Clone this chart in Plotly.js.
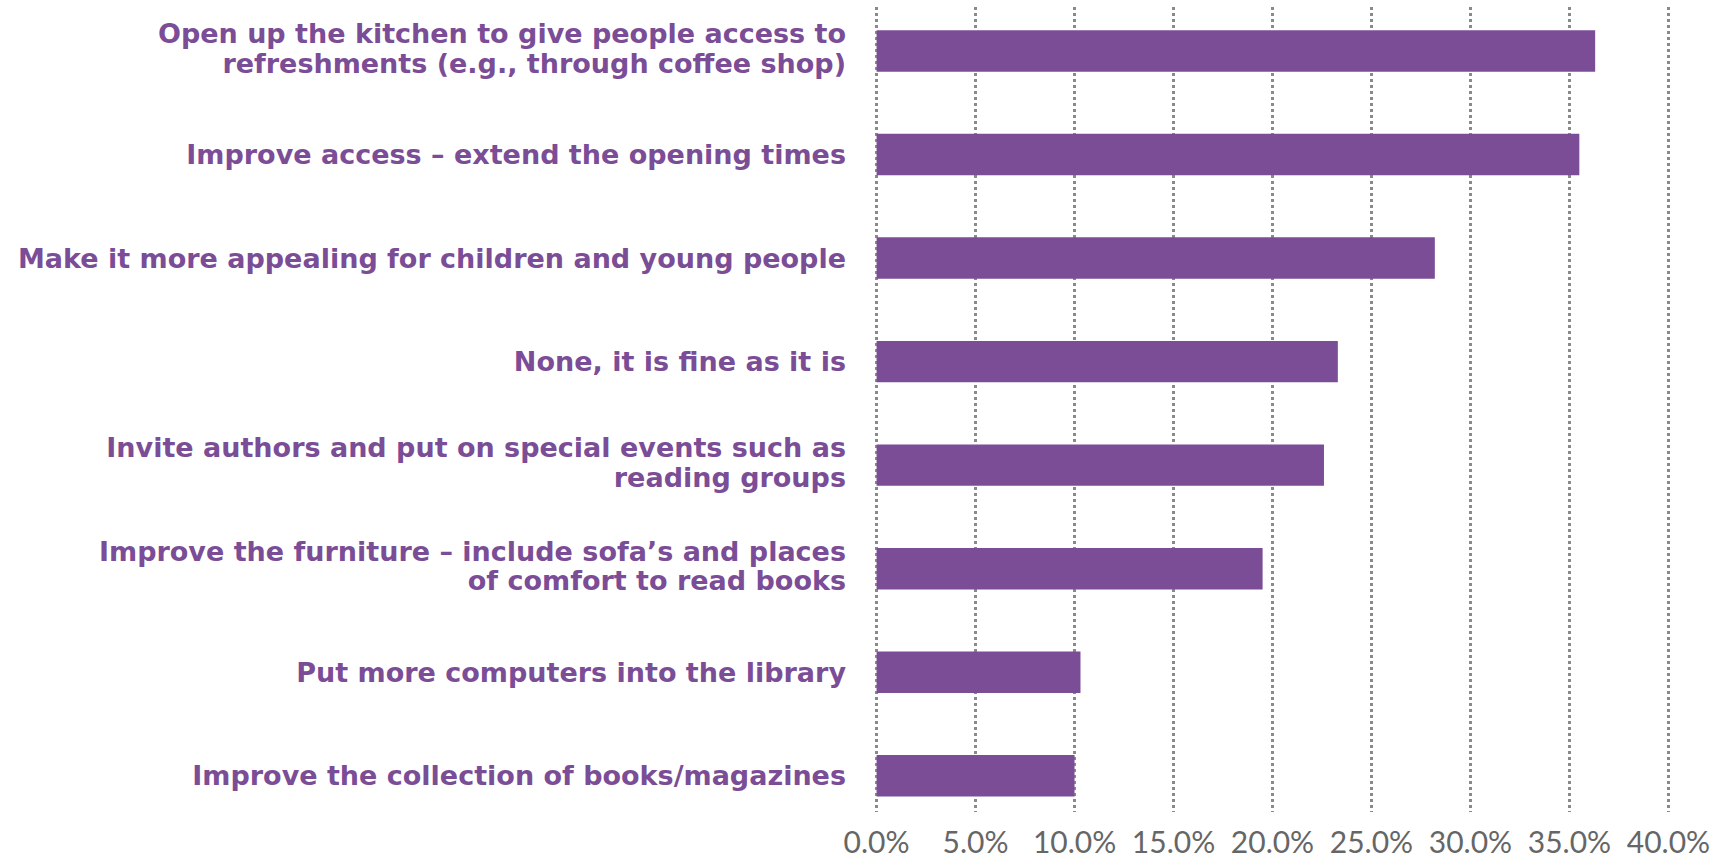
<!DOCTYPE html>
<html>
<head>
<meta charset="utf-8">
<script src="https://cdn.plot.ly/plotly-3.0.1.min.js"></script>
<style>html,body{margin:0;padding:0;background:#fff;}#chart{width:1720px;height:860px;}</style>
</head>
<body>
<div id="chart"></div>
<script>
const categories = [
  "Open up the kitchen to give people access to<br>refreshments (e.g., through coffee shop)",
  "Improve access – extend the opening times",
  "Make it more appealing for children and young people",
  "None, it is fine as it is",
  "Invite authors and put on special events such as<br>reading groups",
  "Improve the furniture – include sofa’s and places<br>of comfort to read books",
  "Put more computers into the library",
  "Improve the collection of books/magazines"
];
const values = [0.363, 0.355, 0.282, 0.233, 0.226, 0.195, 0.103, 0.100];
const tickVals = [0, 0.05, 0.10, 0.15, 0.20, 0.25, 0.30, 0.35, 0.40];
const tickText = ["0.0%", "5.0%", "10.0%", "15.0%", "20.0%", "25.0%", "30.0%", "35.0%", "40.0%"];

const purple = "#7B4D96";

Plotly.newPlot("chart", [{
  type: "bar",
  orientation: "h",
  y: categories,
  x: values,
  marker: {color: purple},
  hoverinfo: "x+y"
}], {
  width: 1720,
  height: 860,
  margin: {l: 875, r: 50, t: 7, b: 48},
  paper_bgcolor: "#fff",
  plot_bgcolor: "#fff",
  bargap: 0.6,
  showlegend: false,
  font: {family: "'DejaVu Sans', sans-serif"},
  xaxis: {
    range: [-0.0008, 0.4008],
    tickvals: tickVals,
    ticktext: tickText,
    showgrid: true,
    gridcolor: "#8a8a8a",
    griddash: "dot",
    gridwidth: 2.5,
    zeroline: false,
    showline: false,
    ticks: "",
    ticklabelstandoff: 10,
    tickfont: {family: "Lato, sans-serif", size: 30, color: "#666666", weight: 400},
    fixedrange: true
  },
  yaxis: {
    type: "category",
    categoryorder: "array",
    categoryarray: categories,
    range: [7.35, -0.425],
    showgrid: false,
    zeroline: false,
    showline: false,
    ticks: "",
    ticklabelstandoff: 28,
    tickfont: {family: "'DejaVu Sans', sans-serif", size: 27, color: purple, weight: 700},
    automargin: false,
    fixedrange: true
  }
}, {displayModeBar: false, staticPlot: true}).then(function (gd) {
  // tighten the line spacing of the two-line category labels
  gd.querySelectorAll(".ytick text").forEach(function (t) {
    const lines = t.querySelectorAll("tspan.line");
    lines.forEach(function (ln, i) {
      if (i > 0) ln.setAttribute("dy", (i * 1.1) + "em");
    });
  });
});
</script>
</body>
</html>
